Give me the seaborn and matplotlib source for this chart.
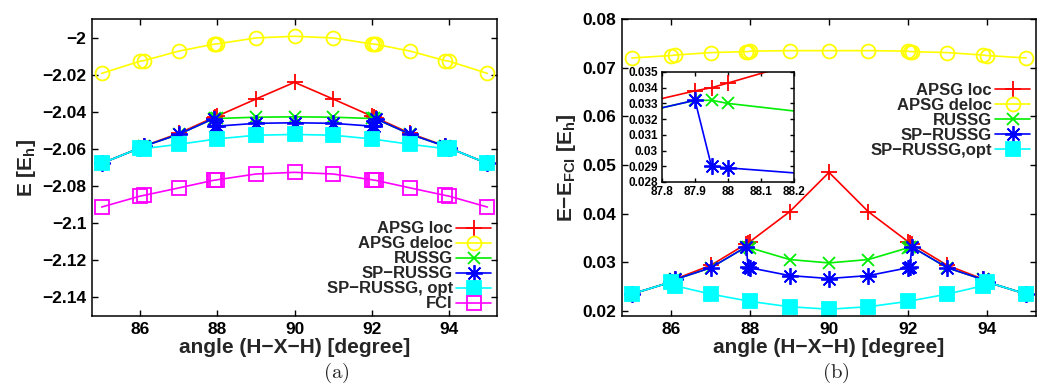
import numpy as np
import pandas as pd
import matplotlib
matplotlib.use("Agg")
import matplotlib.pyplot as plt
from matplotlib.ticker import FuncFormatter, FixedLocator
import seaborn as sns

# H-X-H bending angle grid [degree]
angle = [85, 86, 86.1, 87, 87.9, 87.95, 88, 89, 90, 91, 92, 92.05, 92.1, 93, 93.9, 94, 95]

nan = np.nan

# Total energies [E_h]
e_apsg_loc = [-2.0678, -2.0594, -2.0584, -2.0516, -2.0431, -2.0428, -2.0423, -2.0331, -2.0241,
              -2.0331, -2.0423, -2.0428, -2.0431, -2.0516, -2.0584, -2.0594, -2.0678]
e_apsg_deloc = [-2.0193, -2.0127, -2.0124, -2.0073, -2.0036, -2.0035, -2.0034, -2.0002, -1.9993,
                -2.0002, -2.0034, -2.0035, -2.0036, -2.0073, -2.0124, -2.0127, -2.0193]
e_russg = [-2.0678, -2.0594, -2.0585, -2.0521, -2.0437, -2.0436, -2.0436, -2.0429, -2.0427,
           -2.0429, -2.0436, -2.0436, -2.0437, -2.0521, -2.0585, -2.0594, -2.0678]
e_sp_russg = [-2.0678, -2.0594, -2.0585, -2.0521, -2.0437, -2.0478, -2.0477, -2.0462, -2.0459,
              -2.0462, -2.0477, -2.0478, -2.0437, -2.0521, -2.0585, -2.0594, -2.0678]
e_sp_russg_opt = [-2.0678, -2.0594, -2.0598, -2.0575, nan, nan, -2.0546, -2.0526, -2.0522,
                  -2.0526, -2.0546, nan, nan, -2.0575, -2.0598, -2.0594, -2.0678]
e_fci = [-2.0913, -2.0854, -2.0850, -2.0810, -2.0769, -2.0768, -2.0766, -2.0735, -2.0726,
         -2.0735, -2.0766, -2.0768, -2.0769, -2.0810, -2.0850, -2.0854, -2.0913]

# Errors relative to FCI [E_h]
d_apsg_loc = [0.0235, 0.0260, 0.0266, 0.0294, 0.0338, 0.0340, 0.0343, 0.0404, 0.0485,
              0.0404, 0.0343, 0.0340, 0.0338, 0.0294, 0.0266, 0.0260, 0.0235]
d_apsg_deloc = [0.0720, 0.0725, 0.0726, 0.0731, 0.0733, 0.0733, 0.0734, 0.0735, 0.0735,
                0.0735, 0.0734, 0.0733, 0.0733, 0.0731, 0.0726, 0.0725, 0.0720]
d_russg = [0.0235, 0.0260, 0.0265, 0.0289, 0.0332, 0.0332, 0.0330, 0.0306, 0.0299,
           0.0306, 0.0330, 0.0332, 0.0332, 0.0289, 0.0265, 0.0260, 0.0235]
d_sp_russg = [0.0235, 0.0260, 0.0265, 0.0289, 0.0332, 0.0290, 0.0289, 0.0273, 0.0267,
              0.0273, 0.0289, 0.0290, 0.0332, 0.0289, 0.0265, 0.0260, 0.0235]
d_sp_russg_opt = [0.0235, 0.0260, 0.0252, 0.0235, nan, nan, 0.0220, 0.0209, 0.0204,
                  0.0209, 0.0220, nan, nan, 0.0235, 0.0252, 0.0260, 0.0235]

left_labels = ["APSG loc", "APSG deloc", "RUSSG", "SP\u2212RUSSG", "SP\u2212RUSSG, opt", "FCI"]
right_labels = ["APSG loc", "APSG deloc", "RUSSG", "SP\u2212RUSSG", "SP\u2212RUSSG,opt"]

sns.set_theme(style="ticks")
plt.rcParams.update({
    "font.family": ["Liberation Sans", "DejaVu Sans"],
    "font.weight": "bold",
    "axes.labelweight": "bold",
    "mathtext.fontset": "custom",
    "mathtext.rm": "Liberation Sans:bold",
    "mathtext.bf": "Liberation Sans:bold",
    "mathtext.it": "Liberation Sans:bold",
    "axes.edgecolor": "black",
    "axes.linewidth": 1.1,
    "xtick.color": "black",
    "ytick.color": "black",
    "xtick.direction": "in",
    "ytick.direction": "in",
    "xtick.top": True,
    "ytick.right": True,
    "xtick.major.size": 4,
    "ytick.major.size": 4,
    "xtick.major.width": 1.0,
    "ytick.major.width": 1.0,
    "axes.unicode_minus": True,
})

# Marker styles for each method (gnuplot-like point types)
styles = [
    dict(color="#ff0000", marker="+", ms=11, mfc="none"),
    dict(color="#ffff00", marker="o", ms=10, mfc="none"),
    dict(color="#00ee00", marker="x", ms=9, mfc="none"),
    dict(color="#0000ff", marker=(8, 2, 0), ms=12, mfc="none"),
    dict(color="#00ffff", marker="s", ms=10.5, mfc="#00ffff"),
    dict(color="#ff00ff", marker="s", ms=10, mfc="none"),
]


def fmt_g(v, pos):
    return ("%g" % round(v, 6)).replace("-", "\u2212")


def draw_series(ax, x, y, st, label):
    df = pd.DataFrame({"angle": x, "value": y}).dropna()
    sns.lineplot(data=df, x="angle", y="value", ax=ax, estimator=None, sort=False,
                 color=st["color"], linewidth=1.2, marker=st["marker"], markersize=st["ms"],
                 markerfacecolor=st["mfc"], markeredgecolor=st["color"],
                 markeredgewidth=1.3, label=label, legend=False)


fig = plt.figure(figsize=(10.45, 3.87), dpi=100)
ax1 = fig.add_axes([92 / 1045, 71 / 387, 405 / 1045, 297 / 387])
ax2 = fig.add_axes([622 / 1045, 71 / 387, 414 / 1045, 297 / 387])

# Panel (a): total energies
left_series = [e_apsg_loc, e_apsg_deloc, e_russg, e_sp_russg, e_sp_russg_opt, e_fci]
for y, st, lab in zip(left_series, styles, left_labels):
    draw_series(ax1, angle, y, st, lab)

ax1.set_xlim(84.75, 95.25)
ax1.set_ylim(-2.15, -1.99)
ax1.xaxis.set_major_locator(FixedLocator([86, 88, 90, 92, 94]))
ax1.yaxis.set_major_locator(FixedLocator([-2.14, -2.12, -2.10, -2.08, -2.06, -2.04, -2.02, -2.0]))
ax1.yaxis.set_major_formatter(FuncFormatter(fmt_g))
ax1.set_xlabel("angle (H\u2212X\u2212H) [degree]", fontsize=15, labelpad=1)
ax1.set_ylabel(r"E [E$_{\mathbf{h}}$]", fontsize=15, labelpad=3)

# Panel (b): errors with respect to FCI
right_series = [d_apsg_loc, d_apsg_deloc, d_russg, d_sp_russg, d_sp_russg_opt]
for y, st, lab in zip(right_series, styles, right_labels):
    draw_series(ax2, angle, y, st, lab)

ax2.set_xlim(84.75, 95.25)
ax2.set_ylim(0.019, 0.08)
ax2.xaxis.set_major_locator(FixedLocator([86, 88, 90, 92, 94]))
ax2.yaxis.set_major_locator(FixedLocator([0.02, 0.03, 0.04, 0.05, 0.06, 0.07, 0.08]))
ax2.yaxis.set_major_formatter(FuncFormatter(fmt_g))
ax2.set_xlabel("angle (H\u2212X\u2212H) [degree]", fontsize=15, labelpad=1)
ax2.set_ylabel("E\u2212E$_{\\mathbf{FCI}}$ [E$_{\\mathbf{h}}$]", fontsize=15, labelpad=3)

for ax in (ax1, ax2):
    ax.tick_params(labelsize=12.5, pad=4)
    for lab in ax.get_xticklabels() + ax.get_yticklabels():
        lab.set_fontweight("bold")

# Legends: text first, sample on the right
leg1 = ax1.legend(loc="lower right", bbox_to_anchor=(0.99, 0.01), markerfirst=False,
                  frameon=False, fontsize=12, handlelength=2.1, handletextpad=0.2,
                  labelspacing=0.0, borderpad=0.1, borderaxespad=0)
leg2 = ax2.legend(loc="upper right", bbox_to_anchor=(0.99, 0.79), markerfirst=False,
                  frameon=False, fontsize=12, handlelength=2.1, handletextpad=0.2,
                  labelspacing=0.0, borderpad=0.1, borderaxespad=0)
for leg in (leg1, leg2):
    for t in leg.get_texts():
        t.set_fontweight("bold")

# Inset: zoom on the region around 88 degrees
axin = fig.add_axes([662 / 1045, 205 / 387, 132 / 1045, 110 / 387])
axin.set_facecolor("white")
for y, st, lab in zip(right_series[:4], styles[:4], right_labels[:4]):
    draw_series(axin, angle, y, st, lab)
axin.set_xlim(87.8, 88.2)
axin.set_ylim(0.028, 0.035)
axin.xaxis.set_major_locator(FixedLocator([87.8, 87.9, 88.0, 88.1, 88.2]))
axin.yaxis.set_major_locator(FixedLocator([0.028, 0.029, 0.030, 0.031, 0.032, 0.033, 0.034, 0.035]))
axin.xaxis.set_major_formatter(FuncFormatter(fmt_g))
axin.yaxis.set_major_formatter(FuncFormatter(fmt_g))
axin.set_xlabel("")
axin.set_ylabel("")
axin.tick_params(labelsize=8.5, pad=3, length=3)
for lab in axin.get_xticklabels() + axin.get_yticklabels():
    lab.set_fontweight("bold")

# Panel tags
fig.text(336 / 1045, 2 / 387, r"$(\mathrm{a})$", math_fontfamily="cm", fontsize=15,
         ha="center", va="bottom")
fig.text(836 / 1045, 2 / 387, r"$(\mathrm{b})$", math_fontfamily="cm", fontsize=15,
         ha="center", va="bottom")

fig.savefig("out.png", dpi=100)
